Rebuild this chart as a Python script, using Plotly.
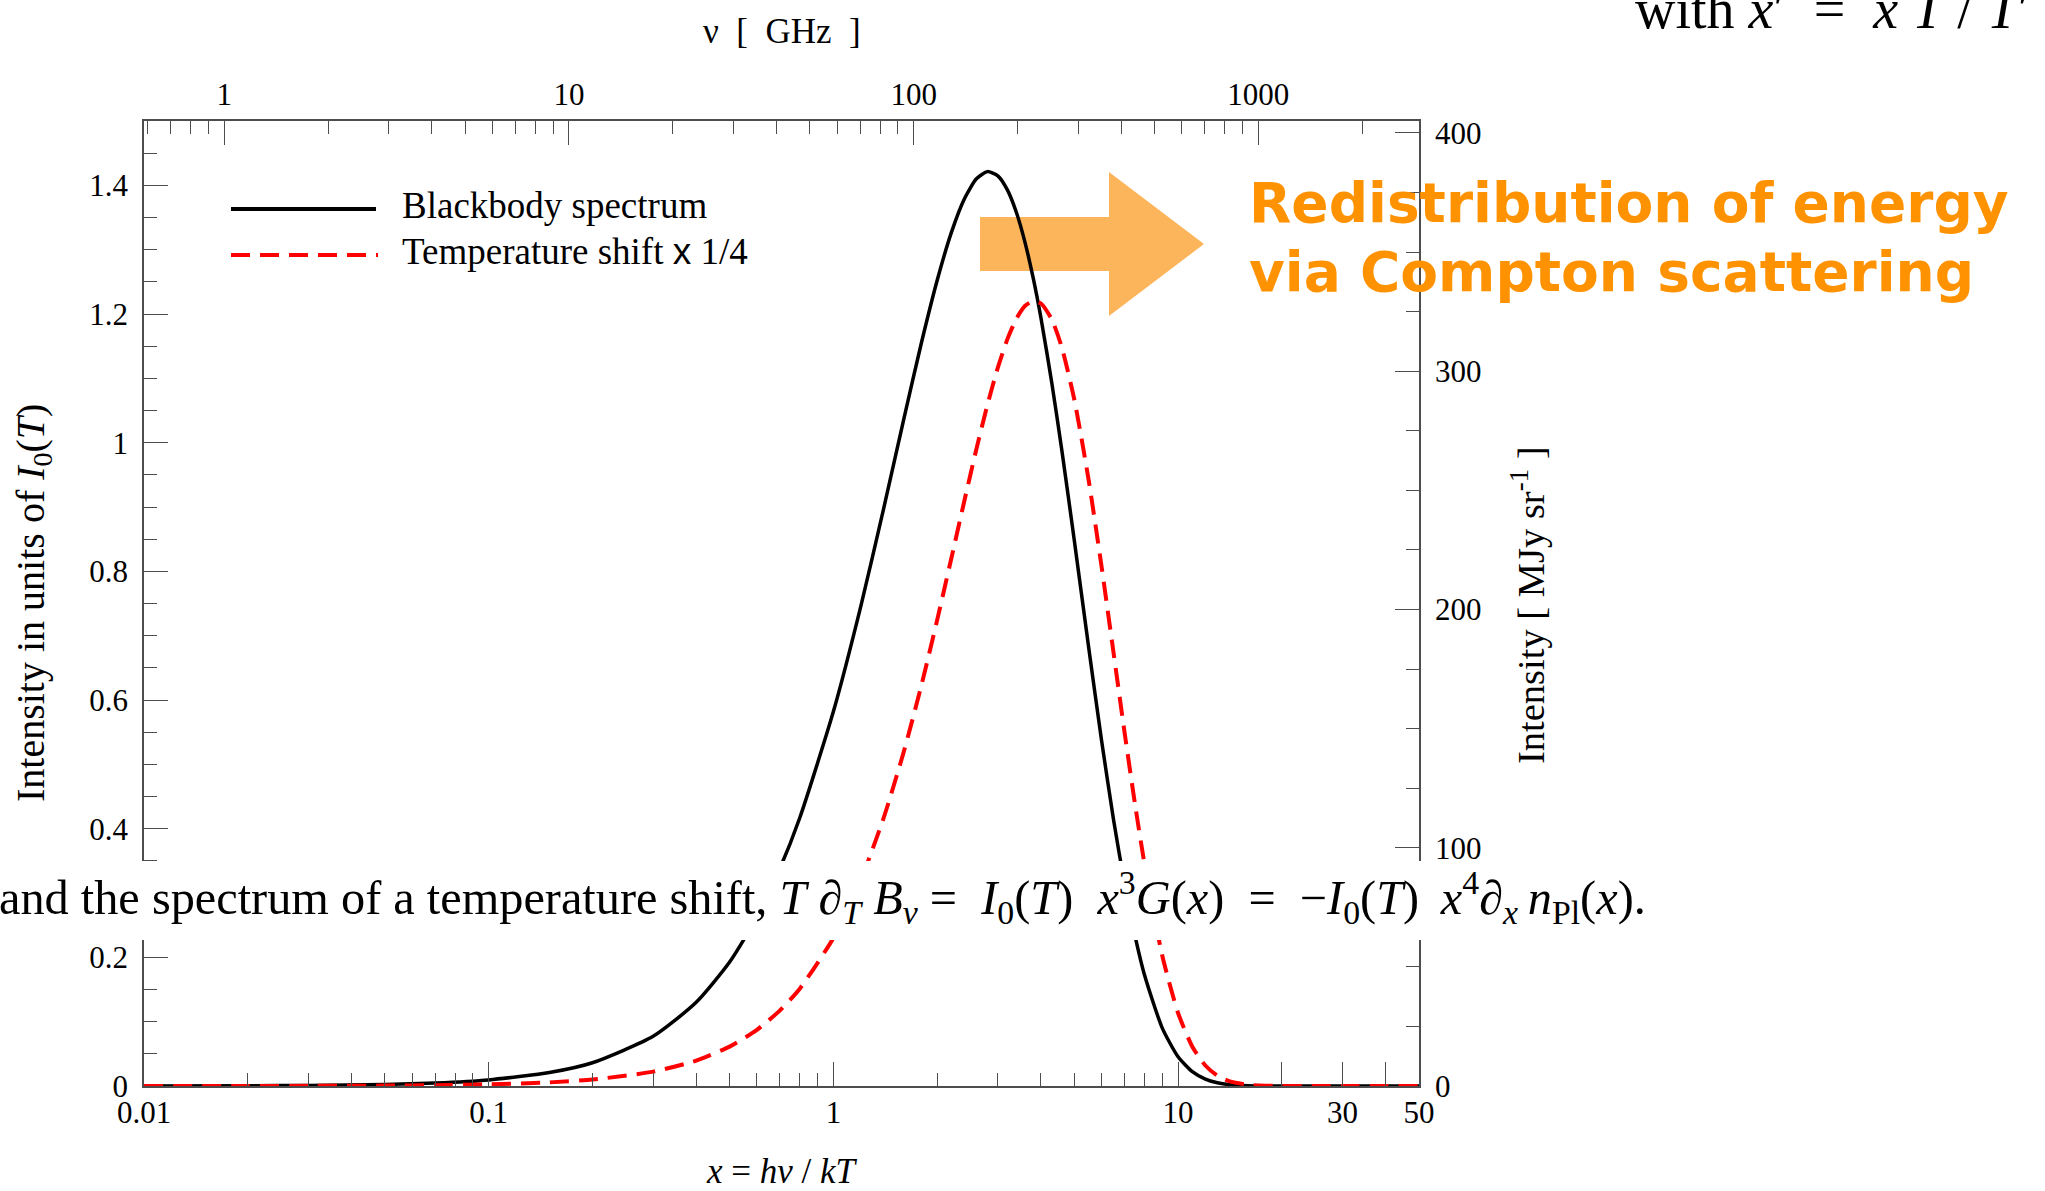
import plotly.graph_objects as go
import math

# ---------------- data ----------------
x_vals = [0.01, 0.02, 0.03, 0.05, 0.07, 0.1, 0.15, 0.2, 0.3, 0.4, 0.5, 0.6, 0.7, 0.8, 1.0,
          1.2, 1.4, 1.6, 1.8, 2.0, 2.2, 2.4, 2.6, 2.8, 3.0, 3.2, 3.4, 3.6, 3.8, 4.0,
          4.3, 4.6, 5.0, 5.5, 6.0, 6.5, 7.0, 7.5, 8.0, 9.0, 10, 11, 12, 13, 14,
          16, 18, 20, 25, 30, 40, 50]
blackbody = [0.0001, 0.0004, 0.0009, 0.0024, 0.0047, 0.0095, 0.0209, 0.0361, 0.0772, 0.1301,
             0.1927, 0.2627, 0.3384, 0.4178, 0.5820, 0.7448, 0.8981, 1.0362, 1.1549, 1.2521,
             1.3269, 1.3792, 1.4102, 1.4213, 1.4147, 1.3925, 1.3570, 1.3106, 1.2556, 1.1941,
             1.0936, 0.9883, 0.8480, 0.6827, 0.5367, 0.4135, 0.3131, 0.2335, 0.1718, 0.0900,
             0.0454, 0.0222, 0.0106, 0.0050, 0.0023, 0.0005, 0.0001, 0.0, 0.0, 0.0, 0.0, 0.0]
temp_shift = [0.0000, 0.0001, 0.0002, 0.0006, 0.0012, 0.0025, 0.0056, 0.0100, 0.0223, 0.0395,
              0.0612, 0.0873, 0.1176, 0.1517, 0.2302, 0.3197, 0.4172, 0.5193, 0.6226, 0.7241,
              0.8207, 0.9101, 0.9902, 1.0593, 1.1166, 1.1613, 1.1933, 1.2127, 1.2201, 1.2163,
              1.1919, 1.1481, 1.0671, 0.9426, 0.8071, 0.6730, 0.5484, 0.4380, 0.3438, 0.2025,
              0.1135, 0.0611, 0.0319, 0.0161, 0.0080, 0.0018, 0.0004, 0.0001, 0.0, 0.0, 0.0, 0.0]

x_range = [0.01, 50]
x_ticks = [0.01, 0.1, 1, 10, 20, 30, 40, 50]
x_ticktext = ["0.01", "0.1", "1", "10", "", "30", "", "50"]
x_minor = [0.02, 0.03, 0.04, 0.05, 0.06, 0.07, 0.08, 0.09,
           0.2, 0.3, 0.4, 0.5, 0.6, 0.7, 0.8, 0.9,
           2, 3, 4, 5, 6, 7, 8, 9]
ghz_per_x = 58.5
nu_ticks = [1, 10, 100, 1000]
nu_ticktext = ["1", "10", "100", "1000"]
nu_minor = [0.6, 0.7, 0.8, 0.9, 2, 3, 4, 5, 6, 7, 8, 9,
            20, 30, 40, 50, 60, 70, 80, 90, 200, 300, 400, 500, 600, 700, 800, 900, 2000]
y_range = [0, 1.5]
y_ticks = [0, 0.2, 0.4, 0.6, 0.8, 1.0, 1.2, 1.4]
y_ticktext = ["0", "0.2", "0.4", "0.6", "0.8", "1", "1.2", "1.4"]
y_minor = [0.05, 0.1, 0.15, 0.25, 0.3, 0.35, 0.45, 0.5, 0.55, 0.65, 0.7, 0.75, 0.85, 0.9,
           0.95, 1.05, 1.1, 1.15, 1.25, 1.3, 1.35, 1.45]
mjy_per_unit = 270
y2_ticks = [0, 100, 200, 300, 400]
y2_minor = [25, 50, 75, 125, 150, 175, 225, 250, 275, 325, 350, 375]

# ---------------- layout geometry (pixels) ----------------
W, H = 2045, 1191
L, R, T, B = 144, 1419, 121, 1086


def px(X):
    return (X - L) / (R - L)


def py(Y):
    return (B - Y) / (B - T)


SERIF = "Liberation Serif"
AX = "#4d4d4d"
EN = "\u2002"
TH = "\u2009"

fig = go.Figure()
fig.add_trace(go.Scatter(x=x_vals, y=blackbody, mode="lines", name="Blackbody spectrum",
                         line=dict(color="black", width=3.5, shape="spline", smoothing=0.6),
                         showlegend=False))
fig.add_trace(go.Scatter(x=x_vals, y=temp_shift, mode="lines", name="Temperature shift x 1/4",
                         line=dict(color="#ff0000", width=4, dash="19px,10px",
                                   shape="spline", smoothing=0.6),
                         showlegend=False))
fig.add_trace(go.Scatter(x=[], y=[], xaxis="x2", yaxis="y2", showlegend=False))

tickfont = dict(family=SERIF, size=31, color="black")
common = dict(showline=True, linecolor=AX, linewidth=1.6, ticks="inside", tickcolor=AX,
              tickwidth=1.4, ticklen=24, showgrid=False, zeroline=False, tickfont=tickfont)
minor_style = dict(ticks="inside", ticklen=13, tickcolor=AX, tickwidth=1.4)

fig.update_layout(
    width=W, height=H,
    margin=dict(l=L, r=W - R, t=T, b=H - B, pad=0),
    paper_bgcolor="white", plot_bgcolor="white",
    showlegend=False,
    xaxis=dict(type="log", range=[math.log10(x_range[0]), math.log10(x_range[1])],
               tickmode="array", tickvals=x_ticks, ticktext=x_ticktext,
               minor=dict(tickvals=x_minor, **minor_style),
               ticklabelstandoff=-2, **common),
    xaxis2=dict(type="log", overlaying="x", side="top", anchor="y",
                range=[math.log10(x_range[0] * ghz_per_x), math.log10(x_range[1] * ghz_per_x)],
                tickmode="array", tickvals=nu_ticks, ticktext=nu_ticktext,
                minor=dict(tickvals=nu_minor, **minor_style),
                ticklabelstandoff=2, **common),
    yaxis=dict(range=y_range, tickmode="array", tickvals=y_ticks, ticktext=y_ticktext,
               minor=dict(tickvals=y_minor, **minor_style),
               ticklabelstandoff=8, **common),
    yaxis2=dict(overlaying="y", side="right", anchor="x",
                range=[y_range[0] * mjy_per_unit, y_range[1] * mjy_per_unit],
                tickmode="array", tickvals=y2_ticks,
                minor=dict(tickvals=y2_minor, **minor_style),
                ticklabelstandoff=8, **common),
)

shapes = []
# orange arrow (behind curves)
arrow_pts = [(980, 217), (1109, 217), (1109, 172), (1204, 244), (1109, 316), (1109, 271), (980, 271)]
path = "M " + " L ".join(f"{px(a):.5f},{py(b):.5f}" for a, b in arrow_pts) + " Z"
shapes.append(dict(type="path", path=path, xref="paper", yref="paper", layer="below",
                   fillcolor="#fcb55a", line=dict(width=0)))
# white banner covering the middle of the chart
shapes.append(dict(type="rect", xref="paper", yref="paper", x0=px(-20), x1=px(1720),
                   y0=py(940), y1=py(861), fillcolor="white", line=dict(width=0), layer="above"))
# legend samples
shapes.append(dict(type="line", xref="paper", yref="paper", x0=px(231), x1=px(376),
                   y0=py(209), y1=py(209), line=dict(color="black", width=4), layer="above"))
shapes.append(dict(type="line", xref="paper", yref="paper", x0=px(231), x1=px(378),
                   y0=py(255), y1=py(255), line=dict(color="#ff0000", width=4, dash="19px,10px"),
                   layer="above"))
fig.update_layout(shapes=shapes)

ann = []


def text(X, Y, s, size, family=SERIF, color="black", xanchor="left", angle=0, weight="normal"):
    ann.append(dict(x=px(X), y=py(Y), xref="paper", yref="paper", text=s, showarrow=False,
                    xanchor=xanchor, yanchor="middle", textangle=angle,
                    font=dict(family=family, size=size, color=color, weight=weight)))


# legend labels
text(400, 205, "Blackbody spectrum", 37)
text(400, 251, "Temperature shift <span style='font-family:Liberation Sans'>x</span> 1/4", 37)
# axis titles
text(782, 32, f"ν{EN}[{EN}GHz{EN}]", 35, xanchor="center")
text(782, 1171, "<i>x</i> = <i>h</i><i>ν</i> / <i>kT</i>", 35, xanchor="center")
text(33, 603, "Intensity in units of <i>I</i><sub>0</sub>(<i>T</i>)", 40, xanchor="center", angle=-90)
text(1528, 605, "Intensity [ MJy sr<sup>-1</sup> ]", 38.5, xanchor="center", angle=-90)
# orange annotation
text(1247, 203, "Redistribution of energy", 55, family="DejaVu Sans", color="#ff9200", weight="bold")
text(1247, 272, "via Compton scattering", 55, family="DejaVu Sans", color="#ff9200", weight="bold")
# overlaid slide text
banner = ("and the spectrum of a temperature shift, "
          f"<i>T</i> ∂<sub><i>T</i></sub> <i>B</i><sub><i>ν</i></sub> ={EN}"
          f"<i>I</i><sub>0</sub>(<i>T</i>){EN}<i>x</i><sup>3</sup><i>G</i>(<i>x</i>){EN}={EN}"
          f"−<i>I</i><sub>0</sub>(<i>T</i>) {TH}<i>x</i><sup>4</sup>∂<sub><i>x</i></sub>{TH}"
          f"<i>n</i><sub>Pl</sub>(<i>x</i>)."
          )
text(-3, 897, banner, 48.3)
text(1633, 9, f"with <i>x</i>′{EN}={EN}<i>x T</i> / <i>T</i>′", 56)

fig.update_layout(annotations=ann)
fig.write_html("out.html")
